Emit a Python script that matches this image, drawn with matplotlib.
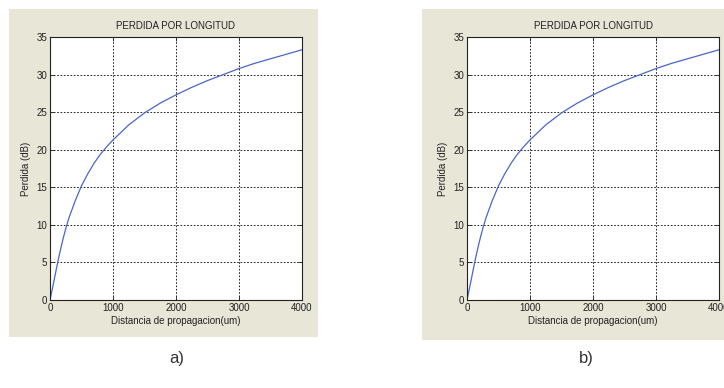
import matplotlib.pyplot as plt
from matplotlib.patches import Rectangle

# distance (um) and loss (dB)
dist = [0, 50, 100, 150, 200, 250, 300, 400, 500, 600, 700, 800, 900, 1000,
        1250, 1500, 1750, 2000, 2250, 2500, 2750, 3000, 3250, 3500, 3750, 4000]
loss = [0, 2.0, 4.1, 6.1, 7.9, 9.5, 10.9, 13.2, 15.2, 16.8, 18.2, 19.4, 20.4, 21.3,
        23.3, 24.9, 26.2, 27.3, 28.3, 29.2, 30.0, 30.8, 31.5, 32.1, 32.7, 33.3]

xticks = [0, 1000, 2000, 3000, 4000]
yticks = [0, 5, 10, 15, 20, 25, 30, 35]
panel_labels = ['a)', 'b)']

W, H = 724, 388
fig = plt.figure(figsize=(W / 100, H / 100), dpi=100)
fig.patch.set_facecolor('white')
plt.rcParams['font.family'] = ['Liberation Sans', 'DejaVu Sans']

bg = '#E8E6D6'
# beige panels (pixels: left, top, right, bottom)
panels = [(9, 9, 318, 337), (422, 9, 724, 340)]
axes_px = [(50, 37, 302, 300), (467, 37, 719, 300)]

for i, ((l, t, r, b), (al, at, ar, ab)) in enumerate(zip(panels, axes_px)):
    fig.add_artist(Rectangle((l / W, 1 - b / H), (r - l) / W, (b - t) / H,
                             transform=fig.transFigure, facecolor=bg,
                             edgecolor='none', zorder=0))
    ax = fig.add_axes([al / W, 1 - ab / H, (ar - al) / W, (ab - at) / H])
    ax.set_facecolor('white')
    ax.plot(dist, loss, color='#4a66c8', lw=0.9)
    ax.set_xlim(0, 4000)
    ax.set_ylim(0, 35)
    ax.set_xticks(xticks)
    ax.set_yticks(yticks)
    ax.grid(True, color='black', linestyle=(0, (2, 2)), linewidth=0.6)
    ax.tick_params(direction='in', length=3, width=0.6, labelsize=7,
                   top=True, right=True, pad=2, colors='#222222')
    for s in ax.spines.values():
        s.set_linewidth(0.8)
        s.set_color('#222222')
    ax.set_title('PERDIDA POR LONGITUD', fontsize=7, pad=6, color='#222222')
    ax.set_xlabel('Distancia de propagacion(um)', fontsize=7, labelpad=2, color='#222222')
    ax.set_ylabel('Perdida (dB)', fontsize=7, labelpad=4, color='#222222')

fig.text(177 / W, 1 - 359 / H, panel_labels[0], fontsize=12, ha='center',
         va='center', color='#333333')
fig.text(586 / W, 1 - 359 / H, panel_labels[1], fontsize=12, ha='center',
         va='center', color='#333333')

fig.savefig('out.png', dpi=100)
